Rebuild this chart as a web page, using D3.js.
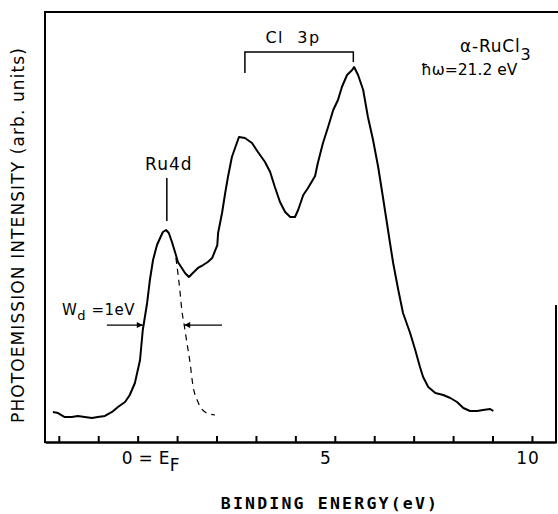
<!DOCTYPE html>
<html>
<head>
<meta charset="utf-8">
<script src="https://cdn.jsdelivr.net/npm/d3@7"></script>
<style>
  html, body { margin: 0; padding: 0; background: #fff; }
  svg { display: block; }
  text { fill: #000; font-family: "DejaVu Sans", sans-serif; }
</style>
</head>
<body>
<svg id="chart" width="558" height="514"></svg>
<script>
// ---------- DATA ----------
// Main photoemission spectrum: binding energy (eV) and intensity (arb. units, 0..100)
const mainEnergy = [-2.15,-2.02,-1.85,-1.67,-1.52,-1.34,-1.16,-1.01,-0.83,-0.65,-0.50,-0.32,-0.20,-0.07,
  0.06,0.13,0.24,0.31,0.39,0.49,0.57,0.64,0.72,0.79,0.87,0.97,1.02,1.12,1.20,1.30,1.40,1.53,1.66,1.78,1.89,
  2.02,2.04,2.14,2.22,2.29,2.39,2.47,2.57,2.72,2.90,3.05,3.23,3.36,3.48,3.61,3.74,3.87,3.99,4.07,4.20,4.32,
  4.50,4.57,4.70,4.83,4.96,5.08,5.18,5.31,5.44,5.49,5.59,5.72,5.84,5.97,6.10,6.22,6.33,6.40,6.48,6.61,6.73,
  6.91,7.04,7.16,7.24,7.37,7.55,7.75,7.93,8.10,8.26,8.43,8.61,8.76,8.94,9.02];
const mainIntensity = [6.98,6.74,5.81,5.81,6.05,5.81,5.58,5.81,6.05,6.98,8.14,9.30,10.93,13.72,
  19.07,26.05,32.33,37.67,42.33,45.81,47.44,48.84,49.30,48.60,46.51,43.49,41.86,40.47,39.30,38.37,39.30,40.47,41.16,41.86,42.79,
  45.8,48.6,53.26,57.91,61.63,66.28,68.37,70.93,70.70,69.53,67.44,65.12,62.79,59.30,55.81,53.49,52.33,52.33,53.95,57.44,59.07,
  61.86,64.88,69.53,73.26,77.21,79.53,82.56,85.35,86.51,87.21,85.35,81.86,75.58,70.23,63.95,56.98,50.47,46.28,41.63,35.35,30.00,
  25.35,21.40,17.44,15.12,12.79,11.40,10.93,10.23,9.30,7.91,7.21,7.21,7.44,7.67,7.21];

// Dashed Ru 4d high-energy tail
const fitEnergy = [0.97,1.07,1.12,1.18,1.25,1.33,1.40,1.53,1.71,1.96];
const fitIntensity = [42.79,35.35,30.70,27.21,23.02,18.37,13.26,9.30,6.98,6.28];

// Axis ticks and labels
const tickValues = [-2,-1,0,1,2,3,4,5,6,7,8,9,10];
const tickLabelValues = [0, 5, 10];
const tickLabelTexts = ["0 = E", "5", "10"];

// Annotations
const ru4dMark = {energy: 0.74, y0: 51.4, y1: 61.4};
const cl3pBracket = {e0: 2.72, e1: 5.47, top: 90.7, leftBottom: 85.8, rightBottom: 88.4};
const widthArrows = {y: 27.2, leftTail: -0.78, leftTip: 0.13, rightTail: 2.14, rightTip: 1.18};

// ---------- DRAW ----------
const svg = d3.select("#chart");
svg.append("rect").attr("width", 558).attr("height", 514).attr("fill", "#fff");

const x = d3.scaleLinear().domain([-2.35, 10.61]).range([45, 556]);
const y = d3.scaleLinear().domain([0, 100]).range([442, 12]);

// Frame
svg.append("line").attr("x1", 45).attr("x2", 45).attr("y1", 11).attr("y2", 443)
  .attr("stroke", "#000").attr("stroke-width", 2);
svg.append("line").attr("x1", 45).attr("x2", 558).attr("y1", 12).attr("y2", 12)
  .attr("stroke", "#000").attr("stroke-width", 2);
svg.append("line").attr("x1", 556).attr("x2", 556).attr("y1", 305).attr("y2", 443)
  .attr("stroke", "#000").attr("stroke-width", 2);

// Bottom axis with inward ticks
const axis = d3.axisBottom(x).tickValues(tickValues).tickSize(-6).tickSizeOuter(0).tickFormat("");
const gAxis = svg.append("g").attr("transform", "translate(0,442)").call(axis);
gAxis.select(".domain").attr("stroke", "#000").attr("stroke-width", 2.5);
gAxis.selectAll(".tick line").attr("stroke", "#000").attr("stroke-width", 2);

// Tick labels
const labelDx = [-16, -9, -4];
tickLabelValues.forEach((v, i) => {
  const t = svg.append("text")
    .attr("x", x(v) + labelDx[i]).attr("y", 464)
    .attr("font-size", 17).attr("text-anchor", i === 0 ? "start" : "middle");
  if (i === 0) {
    t.style("letter-spacing", "0.3px").text(tickLabelTexts[i]);
    t.append("tspan").attr("dy", 7).text("F");
  } else {
    t.style("letter-spacing", "1px").text(tickLabelTexts[i]);
  }
});

// Axis titles
svg.append("text")
  .attr("x", 330).attr("y", 509).attr("text-anchor", "middle")
  .style("font-family", "'DejaVu Sans Mono', monospace").style("font-weight", "bold")
  .style("letter-spacing", "2.2px").attr("font-size", 16.5)
  .text("BINDING ENERGY(eV)");

svg.append("text")
  .attr("transform", "translate(24,235) rotate(-90)").attr("text-anchor", "middle")
  .attr("font-size", 17).style("letter-spacing", "1.1px")
  .text("PHOTOEMISSION INTENSITY (arb. units)");

// Curves
const line = d3.line().x(d => x(d[0])).y(d => y(d[1]));
svg.append("path")
  .datum(mainEnergy.map((e, i) => [e, mainIntensity[i]]))
  .attr("d", line).attr("fill", "none").attr("stroke", "#000")
  .attr("stroke-width", 2).attr("stroke-linejoin", "round");
svg.append("path")
  .datum(fitEnergy.map((e, i) => [e, fitIntensity[i]]))
  .attr("d", line.curve(d3.curveMonotoneX)).attr("fill", "none").attr("stroke", "#000")
  .attr("stroke-width", 1.2).attr("stroke-dasharray", "6,5");

// Ru4d label + marker
svg.append("line").attr("x1", x(ru4dMark.energy)).attr("x2", x(ru4dMark.energy))
  .attr("y1", y(ru4dMark.y0)).attr("y2", y(ru4dMark.y1)).attr("stroke", "#000").attr("stroke-width", 1.5);
svg.append("text").attr("x", x(ru4dMark.energy) + 2).attr("y", 170).attr("text-anchor", "middle")
  .attr("font-size", 17).style("letter-spacing", "1px").text("Ru4d");

// Cl 3p bracket
svg.append("path")
  .attr("d", `M${x(cl3pBracket.e0)},${y(cl3pBracket.leftBottom)}V${y(cl3pBracket.top)}H${x(cl3pBracket.e1)}V${y(cl3pBracket.rightBottom)}`)
  .attr("fill", "none").attr("stroke", "#000").attr("stroke-width", 1.5);
svg.append("text").attr("x", 293).attr("y", 43).attr("text-anchor", "middle")
  .attr("font-size", 16).style("letter-spacing", "1.5px").style("white-space", "pre")
  .text("Cl  3p");

// Sample label
const s1 = svg.append("text").attr("x", 460).attr("y", 52).attr("font-size", 17).style("letter-spacing", "0.8px");
s1.text("α-RuCl");
s1.append("tspan").attr("dy", 8).attr("font-size", 16).text("3");
svg.append("text").attr("x", 421).attr("y", 75).attr("font-size", 15.5)
  .text("ħω=21.2 eV");

// Width annotation
const wt = svg.append("text").attr("x", 62).attr("y", 315).attr("font-size", 15).style("letter-spacing", "0.5px");
wt.text("W");
wt.append("tspan").attr("dy", 5).attr("font-size", 13).text("d");
wt.append("tspan").attr("dy", -5).style("white-space", "pre").text(" =1eV");

const defs = svg.append("defs");
defs.append("marker").attr("id", "arrow").attr("viewBox", "0 0 10 10")
  .attr("refX", 10).attr("refY", 5).attr("markerWidth", 10).attr("markerHeight", 6)
  .attr("markerUnits", "userSpaceOnUse").attr("orient", "auto")
  .append("path").attr("d", "M0,0L10,5L0,10Z").attr("fill", "#000");
svg.append("line").attr("x1", x(widthArrows.leftTail)).attr("x2", x(widthArrows.leftTip))
  .attr("y1", y(widthArrows.y)).attr("y2", y(widthArrows.y))
  .attr("stroke", "#000").attr("stroke-width", 1.2).attr("marker-end", "url(#arrow)");
svg.append("line").attr("x1", x(widthArrows.rightTail)).attr("x2", x(widthArrows.rightTip))
  .attr("y1", y(widthArrows.y)).attr("y2", y(widthArrows.y))
  .attr("stroke", "#000").attr("stroke-width", 1.2).attr("marker-end", "url(#arrow)");
</script>
</body>
</html>
